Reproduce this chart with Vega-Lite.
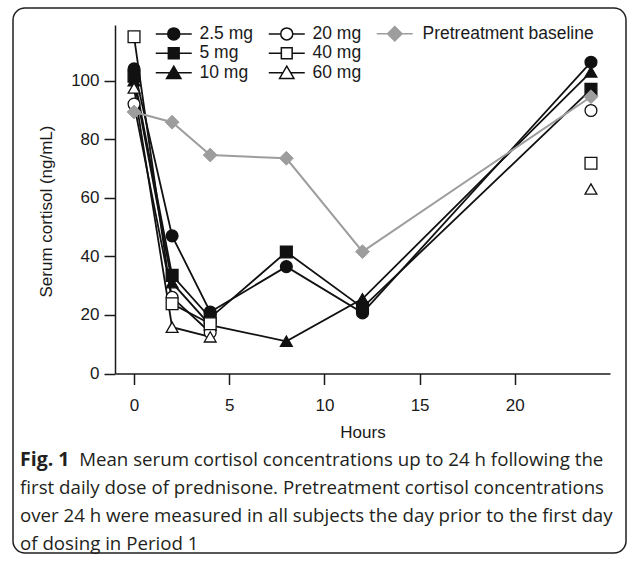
{
  "$schema": "https://vega.github.io/schema/vega-lite/v6.json",
  "width": 613,
  "height": 545,
  "autosize": "none",
  "padding": {"left": 13, "top": 8, "right": 8, "bottom": 10},
  "background": "white",
  "datasets": {
    "dose": [
      {"dose": "2.5 mg", "hour": 0, "cortisol": 104, "joined": true},
      {"dose": "2.5 mg", "hour": 2, "cortisol": 47, "joined": true},
      {"dose": "2.5 mg", "hour": 4, "cortisol": 21, "joined": true},
      {"dose": "2.5 mg", "hour": 8, "cortisol": 36.5, "joined": true},
      {"dose": "2.5 mg", "hour": 12, "cortisol": 20.7, "joined": true},
      {"dose": "2.5 mg", "hour": 24, "cortisol": 106.3, "joined": true},
      {"dose": "5 mg", "hour": 0, "cortisol": 101.5, "joined": true},
      {"dose": "5 mg", "hour": 2, "cortisol": 33.5, "joined": true},
      {"dose": "5 mg", "hour": 4, "cortisol": 19, "joined": true},
      {"dose": "5 mg", "hour": 8, "cortisol": 41.5, "joined": true},
      {"dose": "5 mg", "hour": 12, "cortisol": 22.5, "joined": true},
      {"dose": "5 mg", "hour": 24, "cortisol": 97, "joined": true},
      {"dose": "10 mg", "hour": 0, "cortisol": 100, "joined": true},
      {"dose": "10 mg", "hour": 2, "cortisol": 31, "joined": true},
      {"dose": "10 mg", "hour": 4, "cortisol": 16.5, "joined": true},
      {"dose": "10 mg", "hour": 8, "cortisol": 11, "joined": true},
      {"dose": "10 mg", "hour": 12, "cortisol": 25.5, "joined": true},
      {"dose": "10 mg", "hour": 24, "cortisol": 103, "joined": true},
      {"dose": "20 mg", "hour": 0, "cortisol": 92, "joined": true},
      {"dose": "20 mg", "hour": 2, "cortisol": 26, "joined": true},
      {"dose": "20 mg", "hour": 4, "cortisol": 14, "joined": true},
      {"dose": "20 mg", "hour": 24, "cortisol": 89.8, "joined": false},
      {"dose": "40 mg", "hour": 0, "cortisol": 115, "joined": true},
      {"dose": "40 mg", "hour": 2, "cortisol": 23.8, "joined": true},
      {"dose": "40 mg", "hour": 4, "cortisol": 17, "joined": true},
      {"dose": "40 mg", "hour": 24, "cortisol": 71.8, "joined": false},
      {"dose": "60 mg", "hour": 0, "cortisol": 97.5, "joined": true},
      {"dose": "60 mg", "hour": 2, "cortisol": 15.8, "joined": true},
      {"dose": "60 mg", "hour": 4, "cortisol": 12.5, "joined": true},
      {"dose": "60 mg", "hour": 24, "cortisol": 63, "joined": false}
    ],
    "base": [
      {"series": "Pretreatment baseline", "hour": 0, "cortisol": 89.3},
      {"series": "Pretreatment baseline", "hour": 2, "cortisol": 85.8},
      {"series": "Pretreatment baseline", "hour": 4, "cortisol": 74.6},
      {"series": "Pretreatment baseline", "hour": 8, "cortisol": 73.5},
      {"series": "Pretreatment baseline", "hour": 12, "cortisol": 41.6},
      {"series": "Pretreatment baseline", "hour": 24, "cortisol": 94.5}
    ]
  },
  "title": {
    "text": "Fig. 1",
    "subtitle": [
      "\u200b\u2003\u2003\u2002\u2002\u2009Mean serum cortisol concentrations up to 24 h following the",
      "first daily dose of prednisone. Pretreatment cortisol concentrations",
      "over 24 h were measured in all subjects the day prior to the first day",
      "of dosing in Period 1"
    ],
    "orient": "bottom",
    "anchor": "start",
    "frame": "group",
    "offset": -102,
    "dx": 7,
    "font": "Open Sans",
    "fontSize": 19.5,
    "fontWeight": "bold",
    "color": "#231f20",
    "subtitleFont": "Open Sans",
    "subtitleFontSize": 18.7,
    "subtitleFontWeight": "normal",
    "subtitleColor": "#231f20",
    "subtitleLineHeight": 28,
    "subtitlePadding": -19.3
  },
  "encoding": {
    "x": {
      "field": "hour",
      "type": "quantitative",
      "scale": {"domain": [-1, 25], "range": [102, 597], "nice": false, "zero": false},
      "axis": {
        "values": [0, 5, 10, 15, 20],
        "title": "Hours",
        "offset": -179.5,
        "tickSize": 11,
        "labelPadding": 13,
        "titlePadding": 11,
        "labelFlush": false
      }
    },
    "y": {
      "field": "cortisol",
      "type": "quantitative",
      "scale": {"domain": [0, 119], "range": [365.5, 17], "nice": false, "zero": false},
      "axis": {
        "values": [0, 20, 40, 60, 80, 100],
        "title": "Serum cortisol (ng/mL)",
        "offset": -102,
        "titleY": 203,
        "tickSize": 11,
        "labelPadding": 5,
        "titlePadding": 15
      }
    }
  },
  "layer": [
    {
      "data": {"name": "dose"},
      "layer": [
        {
          "transform": [{"filter": "datum.joined"}],
          "mark": {"type": "line", "color": "#111111", "strokeWidth": 1.8},
          "encoding": {"detail": {"field": "dose"}}
        },
        {
          "mark": {"type": "point", "opacity": 1, "fillOpacity": 1, "stroke": "#111111", "strokeWidth": 1.3, "size": 140},
          "encoding": {
            "shape": {
              "field": "dose",
              "type": "nominal",
              "scale": {
                "domain": ["2.5 mg", "5 mg", "10 mg", "20 mg", "40 mg", "60 mg"],
                "range": ["circle", "square", "triangle-up", "circle", "square", "triangle-up"]
              },
              "legend": null
            },
            "fill": {
              "field": "dose",
              "type": "nominal",
              "scale": {
                "domain": ["2.5 mg", "5 mg", "10 mg", "20 mg", "40 mg", "60 mg"],
                "range": ["#111111", "#111111", "#111111", "#ffffff", "#ffffff", "#ffffff"]
              },
              "legend": null
            }
          }
        }
      ]
    },
    {
      "data": {"name": "dose"},
      "transform": [{"filter": "false"}],
      "mark": {"type": "point", "opacity": 1, "fillOpacity": 1, "stroke": "#111111", "strokeWidth": 1.8},
      "encoding": {
        "shape": {
          "field": "dose",
          "type": "nominal",
          "scale": {
            "domain": ["2.5 mg", "5 mg", "10 mg", "20 mg", "40 mg", "60 mg"],
            "range": [
              "M-3,0L-1,0M1,0L3,0M1,0A1,1,0,1,1,-1,0A1,1,0,1,1,1,0Z",
              "M-3,0L-0.9,0M0.9,0L3,0M-0.9,-0.9L0.9,-0.9L0.9,0.9L-0.9,0.9Z",
              "M-3,0L-0.64,0M0.64,0L3,0M0,-1.1L1.2,0.95L-1.2,0.95Z",
              "M-3,0L-1,0M1,0L3,0M1,0A1,1,0,1,1,-1,0A1,1,0,1,1,1,0Z",
              "M-3,0L-0.9,0M0.9,0L3,0M-0.9,-0.9L0.9,-0.9L0.9,0.9L-0.9,0.9Z",
              "M-3,0L-0.64,0M0.64,0L3,0M0,-1.1L1.2,0.95L-1.2,0.95Z"
            ]
          },
          "legend": {
            "title": null,
            "orient": "none",
            "legendX": 152,
            "legendY": 17,
            "direction": "vertical",
            "columns": 2,
            "columnPadding": 12,
            "rowPadding": 0.5,
            "padding": 0,
            "symbolSize": 144,
            "labelOffset": 17,
            "labelLimit": 300,
            "labelFontSize": 17.5,
            "labelFont": "Liberation Sans",
            "labelColor": "#1a1a1a",
            "encode": {
              "symbols": {
                "stroke": {"value": "#111111"},
                "strokeWidth": {"value": 1.8},
                "opacity": {"value": 1}
              }
            }
          }
        },
        "fill": {
          "field": "dose",
          "type": "nominal",
          "scale": {
            "domain": ["2.5 mg", "5 mg", "10 mg", "20 mg", "40 mg", "60 mg"],
            "range": ["#111111", "#111111", "#111111", "#ffffff", "#ffffff", "#ffffff"]
          },
          "legend": {
            "title": null,
            "orient": "none",
            "legendX": 152,
            "legendY": 17,
            "direction": "vertical",
            "columns": 2,
            "columnPadding": 12,
            "rowPadding": 0.5,
            "padding": 0,
            "symbolSize": 144,
            "labelOffset": 17,
            "labelLimit": 300,
            "labelFontSize": 17.5,
            "labelFont": "Liberation Sans",
            "labelColor": "#1a1a1a",
            "encode": {
              "symbols": {
                "stroke": {"value": "#111111"},
                "strokeWidth": {"value": 1.8},
                "opacity": {"value": 1}
              }
            }
          }
        }
      }
    },
    {
      "data": {"name": "base"},
      "layer": [
        {
          "mark": {"type": "line", "color": "#9d9d9d", "strokeWidth": 2},
          "encoding": {}
        },
        {
          "mark": {"type": "point", "shape": "diamond", "opacity": 1, "fillOpacity": 1, "fill": "#9d9d9d", "stroke": "#9d9d9d", "strokeWidth": 1, "size": 190},
          "encoding": {}
        }
      ]
    },
    {
      "data": {"name": "base"},
      "transform": [{"filter": "false"}],
      "mark": {"type": "point", "opacity": 1, "fillOpacity": 1, "fill": "#9d9d9d", "stroke": "#9d9d9d", "strokeWidth": 2},
      "encoding": {
        "shape": {
          "field": "series",
          "type": "nominal",
          "scale": {"domain": ["Pretreatment baseline"], "range": ["M-3,0L-1.2,0M1.2,0L3,0M0,-1.2L1.2,0L0,1.2L-1.2,0Z"]},
          "legend": {
            "title": null,
            "orient": "none",
            "legendX": 373,
            "legendY": 17,
            "padding": 0,
            "symbolSize": 144,
            "labelOffset": 19,
            "labelLimit": 300,
            "labelFontSize": 17.5,
            "labelFont": "Liberation Sans",
            "labelColor": "#1a1a1a",
            "encode": {
              "symbols": {
                "stroke": {"value": "#9d9d9d"},
                "fill": {"value": "#9d9d9d"},
                "strokeWidth": {"value": 2},
                "opacity": {"value": 1}
              }
            }
          }
        }
      }
    }
  ],
  "resolve": {"scale": {"shape": "independent", "fill": "independent"}},
  "config": {
    "view": {"stroke": "#231f20", "strokeWidth": 1.5, "cornerRadius": 12},
    "font": "Liberation Sans",
    "axis": {
      "labelFont": "Liberation Sans",
      "labelFontSize": 17,
      "labelColor": "#1a1a1a",
      "titleFont": "Liberation Sans",
      "titleFontSize": 17,
      "titleFontWeight": "normal",
      "titleColor": "#1a1a1a",
      "domainColor": "#1a1a1a",
      "tickColor": "#1a1a1a",
      "domainWidth": 1.5,
      "tickWidth": 1.5,
      "grid": false
    }
  }
}
